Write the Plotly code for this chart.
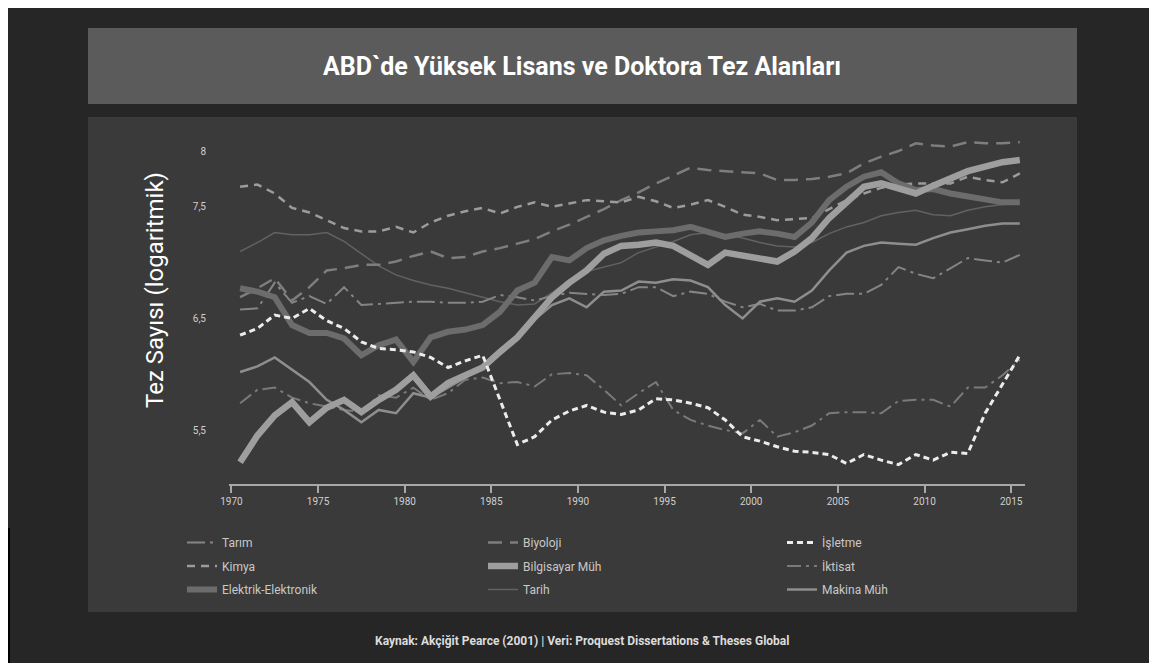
import plotly.graph_objects as go

# yearly values (mid-year points), log thesis counts
years = list(range(1970, 2016))

tarim = [6.58, 6.59, 6.82, 6.64, 6.70, 6.63, 6.78, 6.62, 6.63, 6.64,
         6.65, 6.65, 6.64, 6.64, 6.65, 6.71, 6.69, 6.66, 6.70, 6.73,
         6.72, 6.71, 6.72, 6.78, 6.78, 6.70, 6.74, 6.72, 6.65, 6.60,
         6.63, 6.57, 6.57, 6.60, 6.70, 6.72, 6.72, 6.80, 6.96, 6.90,
         6.86, 6.95, 7.04, 7.02, 7.00, 7.07]
kimya = [7.68, 7.70, 7.62, 7.49, 7.45, 7.38, 7.31, 7.28, 7.28, 7.32,
         7.27, 7.36, 7.42, 7.46, 7.49, 7.44, 7.50, 7.54, 7.50, 7.53,
         7.56, 7.55, 7.54, 7.59, 7.55, 7.49, 7.52, 7.56, 7.50, 7.43,
         7.41, 7.38, 7.39, 7.40, 7.48, 7.56, 7.62, 7.67, 7.70, 7.71,
         7.71, 7.71, 7.77, 7.74, 7.72, 7.80]
elektrik = [6.77, 6.74, 6.69, 6.44, 6.37, 6.37, 6.32, 6.17, 6.26, 6.31,
            6.11, 6.33, 6.38, 6.40, 6.44, 6.56, 6.75, 6.82, 7.05, 7.02,
            7.13, 7.20, 7.24, 7.27, 7.28, 7.29, 7.32, 7.27, 7.23, 7.26,
            7.28, 7.26, 7.23, 7.36, 7.56, 7.68, 7.77, 7.81, 7.71, 7.65,
            7.66, 7.62, 7.59, 7.56, 7.54, 7.54]
biyoloji = [6.69, 6.77, 6.86, 6.66, 6.78, 6.93, 6.95, 6.98, 6.98, 7.01,
            7.06, 7.10, 7.04, 7.05, 7.10, 7.13, 7.17, 7.21, 7.28, 7.34,
            7.41, 7.48, 7.56, 7.63, 7.71, 7.78, 7.85, 7.83, 7.82, 7.81,
            7.80, 7.74, 7.74, 7.75, 7.77, 7.80, 7.89, 7.95, 8.00, 8.07,
            8.05, 8.04, 8.08, 8.07, 8.07, 8.08]
bilgisayar = [5.21, 5.45, 5.63, 5.75, 5.57, 5.70, 5.77, 5.66, 5.77, 5.86,
              5.99, 5.80, 5.92, 5.99, 6.06, 6.20, 6.33, 6.51, 6.69, 6.82,
              6.93, 7.08, 7.15, 7.16, 7.18, 7.15, 7.06, 6.98, 7.09, 7.06,
              7.03, 7.01, 7.10, 7.22, 7.40, 7.55, 7.68, 7.71, 7.66, 7.62,
              7.69, 7.75, 7.82, 7.86, 7.90, 7.92]
tarih = [7.10, 7.18, 7.27, 7.25, 7.25, 7.27, 7.19, 7.08, 6.97, 6.89,
         6.84, 6.80, 6.77, 6.73, 6.69, 6.65, 6.62, 6.63, 6.73, 6.85,
         6.92, 6.96, 7.00, 7.09, 7.14, 7.19, 7.25, 7.27, 7.25, 7.22,
         7.18, 7.15, 7.14, 7.18, 7.26, 7.32, 7.36, 7.42, 7.45, 7.47,
         7.43, 7.42, 7.47, 7.50, 7.52, 7.53]
isletme = [6.35, 6.41, 6.53, 6.50, 6.59, 6.48, 6.41, 6.29, 6.23, 6.22,
           6.20, 6.15, 6.06, 6.12, 6.17, 5.77, 5.37, 5.44, 5.59, 5.67,
           5.72, 5.66, 5.64, 5.68, 5.78, 5.77, 5.74, 5.70, 5.59, 5.44,
           5.40, 5.35, 5.31, 5.30, 5.28, 5.20, 5.28, 5.23, 5.19, 5.28,
           5.23, 5.30, 5.29, 5.65, 5.91, 6.17]
iktisat = [5.74, 5.86, 5.88, 5.79, 5.74, 5.71, 5.68, 5.66, 5.81, 5.79,
           5.88, 5.77, 5.83, 5.95, 5.97, 5.92, 5.93, 5.89, 6.00, 6.01,
           5.99, 5.86, 5.72, 5.83, 5.93, 5.68, 5.59, 5.54, 5.50, 5.47,
           5.59, 5.44, 5.48, 5.54, 5.65, 5.66, 5.66, 5.65, 5.76, 5.77,
           5.77, 5.71, 5.88, 5.88, 5.99, 6.13]
makina = [6.02, 6.07, 6.15, 6.04, 5.93, 5.77, 5.68, 5.57, 5.68, 5.65,
          5.83, 5.79, 5.88, 5.97, 6.08, 6.22, 6.32, 6.49, 6.62, 6.68,
          6.60, 6.74, 6.75, 6.83, 6.82, 6.85, 6.84, 6.78, 6.62, 6.50,
          6.65, 6.68, 6.65, 6.75, 6.93, 7.09, 7.15, 7.18, 7.17, 7.16,
          7.22, 7.27, 7.30, 7.33, 7.35, 7.35]

x_ticks = list(range(1970, 2016, 5))
y_ticks = [5.5, 6.5, 7.5, 8]
y_labels = ["5,5", "6,5", "7,5", "8"]

# the page puts the figure 8px in from the top-left corner
OFF = 8
W, H = 1157, 663
L = 229 - OFF
T = 140 - OFF
R = W - (1025 - OFF)
B = H - (484 - OFF)
PW, PH = W - L - R, H - T - B

FONT = "Roboto, Liberation Sans, sans-serif"


def px(x):
    # screen x -> paper
    return (x - OFF - L) / PW


def py(y):
    # screen y -> paper
    return (H - B - (y - OFF)) / PH


xs = [y + 0.5 for y in years]

# name, data, colour, width, dash, legend
series = [
    ("Tarım", tarim, "#858585", 2, "18px,5px,3px,5px", "legend"),
    ("Kimya", kimya, "#9c9c9c", 2.5, "8px,6px", "legend"),
    ("Elektrik-Elektronik", elektrik, "#6c6c6c", 6, "solid", "legend"),
    ("Biyoloji", biyoloji, "#7e7e7e", 2.5, "14px,8px", "legend2"),
    ("Bilgisayar Müh", bilgisayar, "#9e9e9e", 6.5, "solid", "legend2"),
    ("Tarih", tarih, "#626262", 1.5, "solid", "legend2"),
    ("İşletme", isletme, "#ececec", 3, "6px,4px", "legend3"),
    ("İktisat", iktisat, "#7a7a7a", 2, "14px,5px,3px,5px", "legend3"),
    ("Makina Müh", makina, "#8e8e8e", 2.5, "solid", "legend3"),
]

fig = go.Figure()
draw_order = ["Tarih", "Tarım", "İktisat", "Biyoloji", "Kimya", "Makina Müh",
              "Elektrik-Elektronik", "Bilgisayar Müh", "İşletme"]
for name, vals, col, w, dash, leg in sorted(series, key=lambda s: draw_order.index(s[0])):
    fig.add_trace(go.Scatter(
        x=xs, y=vals, name=name, mode="lines",
        line=dict(color=col, width=w, dash=dash),
        legend=leg, legendgroup=name,
        legendrank=[s[0] for s in series].index(name),
    ))

shapes = [
    dict(type="rect", xref="paper", yref="paper", layer="below",
         x0=px(88), x1=px(1077), y0=py(104), y1=py(28),
         fillcolor="#5b5b5b", line=dict(width=0)),
    dict(type="rect", xref="paper", yref="paper", layer="below",
         x0=px(88), x1=px(1077), y0=py(612), y1=py(117),
         fillcolor="#3a3a3a", line=dict(width=0)),
    dict(type="rect", xref="paper", yref="paper", layer="below",
         x0=px(0), x1=px(10), y0=py(670), y1=py(528),
         fillcolor="#000000", line=dict(width=0)),
]

leg_common = dict(orientation="v", xanchor="left", yanchor="top",
                  bgcolor="rgba(0,0,0,0)", tracegroupgap=4.5,
                  font=dict(family=FONT, size=12, color="#c8c8c8"))

fig.update_layout(
    width=W, height=H,
    margin=dict(l=L, r=R, t=T, b=B),
    paper_bgcolor="#262626",
    plot_bgcolor="rgba(0,0,0,0)",
    shapes=shapes,
    showlegend=True,
    legend=dict(x=px(182), y=py(528), **leg_common),
    legend2=dict(x=px(483), y=py(528), **leg_common),
    legend3=dict(x=px(782), y=py(528), **leg_common),
    xaxis=dict(
        range=[1969.86, 2015.8], tickvals=x_ticks,
        showgrid=False, zeroline=False,
        showline=True, linecolor="#a8a8a8", linewidth=1.5,
        ticks="outside", ticklen=7, tickcolor="#a8a8a8", tickwidth=1.5,
        tickfont=dict(family=FONT, size=10, color="#cfcfcf"),
    ),
    yaxis=dict(
        range=[5.016, 8.099], tickvals=y_ticks, ticktext=y_labels,
        showgrid=False, zeroline=False, showline=False,
        ticklabelstandoff=22,
        tickfont=dict(family=FONT, size=10, color="#cfcfcf"),
    ),
    annotations=[
        dict(text="<b>ABD`de Yüksek Lisans ve Doktora Tez Alanları</b>",
             xref="paper", yref="paper", x=px(582), y=py(66),
             showarrow=False, xanchor="center", yanchor="middle",
             font=dict(family=FONT, size=25, color="#ffffff")),
        dict(text="Tez Sayısı (logaritmik)", textangle=-90,
             xref="paper", yref="paper", x=px(155), y=py(290),
             showarrow=False, xanchor="center", yanchor="middle",
             font=dict(family=FONT, size=24, color="#ffffff")),
        dict(text="<b>Kaynak: Akçiğit Pearce (2001) | Veri: Proquest Dissertations & Theses Global</b>",
             xref="paper", yref="paper", x=px(582), y=py(641),
             showarrow=False, xanchor="center", yanchor="middle",
             font=dict(family=FONT, size=12, color="#dcdcdc")),
    ],
)

fig.write_html("out.html")
